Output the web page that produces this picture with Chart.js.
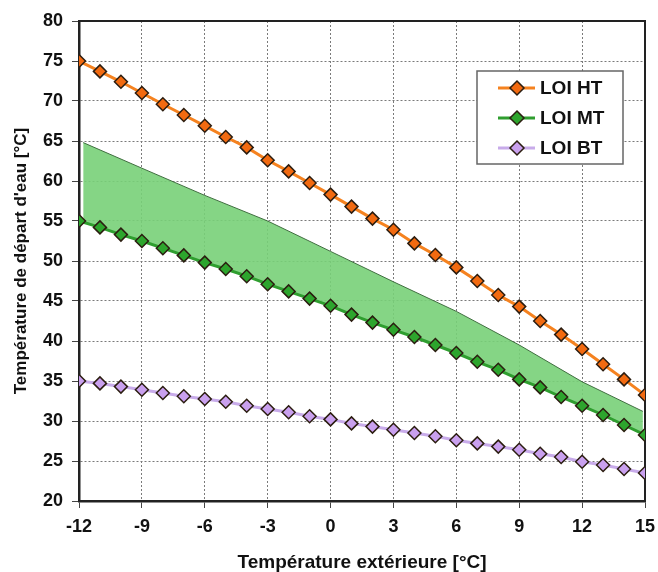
<!DOCTYPE html>
<html>
<head>
<meta charset="utf-8">
<script src="https://cdn.jsdelivr.net/npm/chart.js@4"></script>
<style>
  html, body { margin: 0; padding: 0; background: #fff; }
  #wrap { width: 658px; height: 572px; }
</style>
</head>
<body>
<div id="wrap"><canvas id="myChart" width="658" height="572"></canvas></div>
<script>
// températures extérieures (°C)
const temps = [-12, -11, -10, -9, -8, -7, -6, -5, -4, -3, -2, -1, 0, 1, 2, 3, 4, 5, 6, 7, 8, 9, 10, 11, 12, 13, 14, 15];
const loiHT = [75.0, 73.7, 72.4, 71.0, 69.6, 68.25, 66.9, 65.5, 64.2, 62.6, 61.2, 59.75, 58.3, 56.8, 55.3, 53.9, 52.2, 50.75, 49.2, 47.5, 45.75, 44.3, 42.5, 40.8, 39.0, 37.1, 35.2, 33.25];
const loiMT = [55.0, 54.2, 53.3, 52.5, 51.6, 50.7, 49.8, 49.0, 48.1, 47.1, 46.2, 45.3, 44.4, 43.3, 42.3, 41.4, 40.5, 39.5, 38.5, 37.4, 36.4, 35.2, 34.2, 33.0, 31.9, 30.75, 29.5, 28.25];
const loiBT = [35.0, 34.7, 34.3, 33.9, 33.5, 33.1, 32.75, 32.4, 31.9, 31.5, 31.1, 30.6, 30.2, 29.7, 29.3, 28.9, 28.5, 28.1, 27.6, 27.2, 26.8, 26.4, 25.9, 25.5, 24.9, 24.5, 24.0, 23.5];
// limite haute de la zone verte
const bandX = [-11.8, -9, -6, -3, 0, 3, 6, 9, 12, 14.9];
const bandTop = [64.8, 61.6, 58.2, 55.0, 51.2, 47.4, 43.7, 39.5, 34.9, 31.2];
const xTicks = [-12, -9, -6, -3, 0, 3, 6, 9, 12, 15];
const yTicks = [20, 25, 30, 35, 40, 45, 50, 55, 60, 65, 70, 75, 80];

const toXY = (xs, ys) => xs.map((x, i) => ({ x: x, y: ys[i] }));

function serie(label, values, line, fill) {
    return {
        label: label,
        data: toXY(temps, values),
        borderColor: line,
        borderWidth: 3,
        backgroundColor: fill,
        pointStyle: 'rectRot',
        pointRadius: 6.5,
        pointBorderWidth: 1.5,
        pointBorderColor: '#2b1d10',
        pointBackgroundColor: fill,
        fill: false,
        tension: 0
    };
}

// cadre haut/droite
const frame = {
    id: 'frame',
    beforeDatasetsDraw(chart) {
        const { ctx, chartArea: a } = chart;
        ctx.save();
        ctx.strokeStyle = '#222';
        ctx.lineWidth = 2;
        ctx.beginPath();
        ctx.moveTo(a.left, a.top);
        ctx.lineTo(a.right, a.top);
        ctx.lineTo(a.right, a.bottom);
        ctx.stroke();
        ctx.restore();
    }
};

// légende encadrée
const boxLegend = {
    id: 'boxLegend',
    afterDraw(chart) {
        const { ctx, chartArea: a } = chart;
        const x0 = a.right - 168, y0 = a.top + 50, w = 146, h = 93;
        ctx.save();
        ctx.fillStyle = '#fff';
        ctx.fillRect(x0, y0, w, h);
        ctx.strokeStyle = '#666';
        ctx.lineWidth = 1.5;
        ctx.strokeRect(x0, y0, w, h);
        const items = chart.data.datasets.slice(0, 3);
        items.forEach((ds, i) => {
            const cy = y0 + 17 + i * 30;
            ctx.strokeStyle = ds.borderColor;
            ctx.lineWidth = 3;
            ctx.beginPath();
            ctx.moveTo(x0 + 21, cy);
            ctx.lineTo(x0 + 58, cy);
            ctx.stroke();
            ctx.beginPath();
            ctx.moveTo(x0 + 40, cy - 7);
            ctx.lineTo(x0 + 47, cy);
            ctx.lineTo(x0 + 40, cy + 7);
            ctx.lineTo(x0 + 33, cy);
            ctx.closePath();
            ctx.fillStyle = ds.pointBackgroundColor;
            ctx.fill();
            ctx.strokeStyle = '#2b1d10';
            ctx.lineWidth = 1.5;
            ctx.stroke();
            ctx.fillStyle = '#111';
            ctx.font = 'bold 19px "Liberation Sans", Arial, sans-serif';
            ctx.textBaseline = 'middle';
            ctx.fillText(ds.label, x0 + 63, cy + 1);
        });
        ctx.restore();
    }
};

const fontTicks = { family: '"Liberation Sans", Arial, sans-serif', size: 18, weight: 'bold' };
const fontTitleX = { family: '"Liberation Sans", Arial, sans-serif', size: 19, weight: 'bold', lineHeight: 1 };
const fontTitleY = { family: '"Liberation Sans", Arial, sans-serif', size: 17, weight: 'bold' };

const ctx = document.getElementById('myChart');
new Chart(ctx, {
    type: 'line',
    data: {
        datasets: [
            serie('LOI HT', loiHT, '#f5821f', '#f26a10'),
            serie('LOI MT', loiMT, '#2f9e2f', '#2da52d'),
            serie('LOI BT', loiBT, '#c8abea', '#c9a0ee'),
            {
                label: 'zone',
                data: toXY(bandX, bandTop),
                borderColor: '#3f6e3f',
                borderWidth: 1,
                pointRadius: 0,
                backgroundColor: 'rgba(120, 208, 120, 0.9)',
                fill: { target: 1 },
                tension: 0
            }
        ]
    },
    options: {
        responsive: false,
        animation: false,
        layout: { padding: { left: 0, top: 21, right: 13, bottom: 0 } },
        plugins: {
            legend: { display: false },
            tooltip: { enabled: false }
        },
        scales: {
            x: {
                type: 'linear',
                min: -12,
                max: 15,
                afterBuildTicks: (s) => { s.ticks = xTicks.map(v => ({ value: v })); },
                afterFit: (s) => { s.height = 71; s.paddingLeft = 0; s.paddingRight = 0; },
                ticks: { color: '#111', font: fontTicks, padding: 8, maxRotation: 0 },
                grid: { color: '#7a7a7a', lineWidth: 1, tickLength: 7, tickColor: '#444', tickBorderDash: [] },
                border: { display: true, color: '#222', width: 2.5, dash: [2, 2] },
                title: { display: true, text: 'Température extérieure [°C]', color: '#111', font: fontTitleX, padding: { top: 0, bottom: 0 } }
            },
            y: {
                min: 20,
                max: 80,
                afterBuildTicks: (s) => { s.ticks = yTicks.map(v => ({ value: v })); },
                afterFit: (s) => { s.width = 79; },
                ticks: { color: '#111', font: fontTicks, padding: 9 },
                grid: { color: '#7a7a7a', lineWidth: 1, tickLength: 7, tickColor: '#444', tickBorderDash: [] },
                border: { display: true, color: '#222', width: 2.5, dash: [2, 2] },
                title: { display: true, text: "Température de départ d'eau [°C]", color: '#111', font: fontTitleY, padding: { top: 11, bottom: 0 } }
            }
        }
    },
    plugins: [frame, boxLegend]
});
</script>
</body>
</html>
